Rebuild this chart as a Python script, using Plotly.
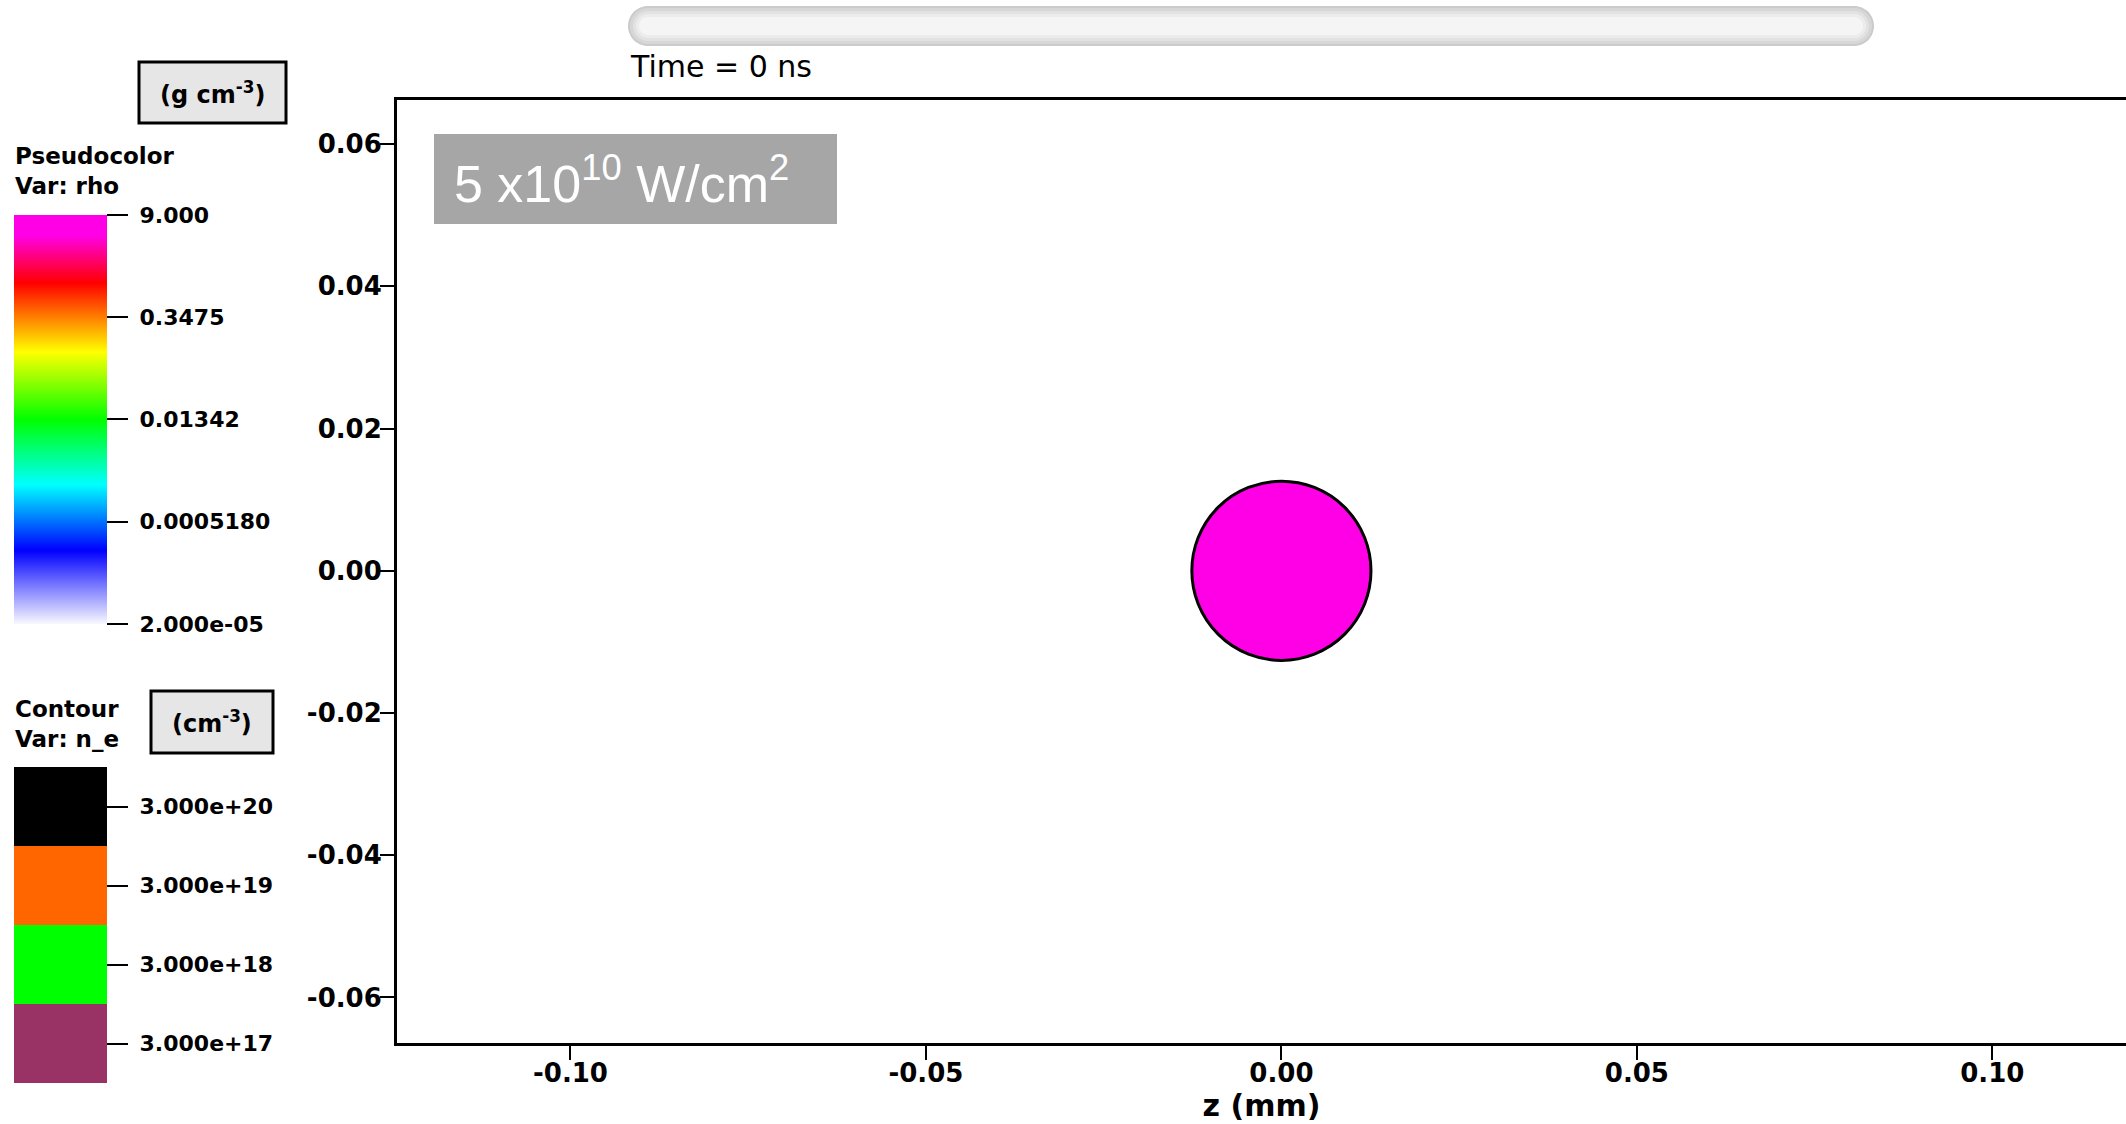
import math
import plotly.graph_objects as go

W, H = 2126, 1124

# ---------------- data ----------------
rho_tick_values = [2.0e-05, 0.0005180, 0.01342, 0.3475, 9.000]
rho_tick_labels = ["2.000e-05", "0.0005180", "0.01342", "0.3475", "9.000"]
rho_scale_pos = [0.0, 0.08, 0.18, 0.34, 0.50, 0.665, 0.834, 0.95, 1.0]
rho_scale_col = ["#f8f8ff", "#8c8cff", "#0000ff", "#00ffff", "#00ff00",
                 "#ffff00", "#ff0000", "#ff00e6", "#ff00e6"]
ne_levels = ["3.000e+17", "3.000e+18", "3.000e+19", "3.000e+20"]
ne_colors = ["#993366", "#00ff00", "#ff6600", "#000000"]
x_tick_values = [-0.10, -0.05, 0.00, 0.05, 0.10]
y_tick_values = [-0.06, -0.04, -0.02, 0.00, 0.02, 0.04, 0.06]
target_center = (0.0, 0.0)
target_radius = 0.0126
target_rho = 9.0
x_range = [-0.1244, 0.1188]
y_range = [-0.0664, 0.0662]
time_label = "Time = 0 ns"
intensity_label = "5 x10<sup>10</sup> W/cm<sup>2</sup>"

# ---------------- layout geometry ----------------
L, R, T, B = 397, 0, 100, 81
PW, PH = W - L - R, H - T - B


def px(x):
    return (x - L) / PW


def py(y):
    return (H - B - y) / PH


FONT = "DejaVu Sans"
NB = "\u00a0"
cb_font = dict(family=FONT, size=22, color="#000", weight="bold")

fig = go.Figure()

# pseudocolor colorbar (log10 rho)
lo, hi = math.log10(rho_tick_values[0]), math.log10(rho_tick_values[-1])
fig.add_trace(go.Scatter(
    x=[target_center[0], target_center[0]], y=[target_center[1], target_center[1]],
    mode="markers", hoverinfo="skip", showlegend=False,
    marker=dict(
        size=1, opacity=0,
        color=[lo, hi], cmin=lo - 1e-9, cmax=hi + 1e-9,
        colorscale=[[p, c] for p, c in zip(rho_scale_pos, rho_scale_col)],
        showscale=True,
        colorbar=dict(
            xref="paper", x=px(14), xanchor="left", xpad=0,
            yref="paper", y=py(215), yanchor="top", ypad=0,
            thickness=93, thicknessmode="pixels",
            len=409, lenmode="pixels",
            outlinewidth=0,
            tickvals=[math.log10(v) for v in rho_tick_values],
            ticktext=[NB + t for t in rho_tick_labels],
            ticks="outside", ticklen=21, tickwidth=1.5, tickcolor="#000",
            tickfont=cb_font,
        ),
    ),
))

# contour level legend (discrete)
n = len(ne_colors)
dscale = []
for i, c in enumerate(ne_colors):
    dscale.append([i / n, c])
    dscale.append([(i + 1) / n, c])
fig.add_trace(go.Scatter(
    x=[target_center[0], target_center[0]], y=[target_center[1], target_center[1]],
    mode="markers", hoverinfo="skip", showlegend=False,
    marker=dict(
        size=1, opacity=0,
        color=[0, n], cmin=0, cmax=n,
        colorscale=dscale,
        showscale=True,
        colorbar=dict(
            xref="paper", x=px(14), xanchor="left", xpad=0,
            yref="paper", y=py(767), yanchor="top", ypad=0,
            thickness=93, thicknessmode="pixels",
            len=316, lenmode="pixels",
            outlinewidth=0,
            tickvals=[i + 0.5 for i in range(n)],
            ticktext=[NB + t for t in ne_levels],
            ticks="outside", ticklen=21, tickwidth=1.5, tickcolor="#000",
            tickfont=cb_font,
        ),
    ),
))

shapes = []

# target (rho = 9 -> top colour of the table)
cx, cy = target_center
shapes.append(dict(
    type="circle", xref="x", yref="y", layer="above",
    x0=cx - target_radius, x1=cx + target_radius,
    y0=cy - target_radius, y1=cy + target_radius,
    fillcolor=rho_scale_col[-1], line=dict(color="#000", width=3),
))


def pill(x0, y0, x1, y1):
    r = (y1 - y0) / 2
    k = 0.5523 * r

    def P(a, b):
        return f"{px(a):.6f},{py(b):.6f}"
    path = f"M{P(x0 + r, y0)} L{P(x1 - r, y0)} "
    path += f"C{P(x1 - r + k, y0)} {P(x1, y0 + r - k)} {P(x1, y0 + r)} "
    path += f"C{P(x1, y0 + r + k)} {P(x1 - r + k, y1)} {P(x1 - r, y1)} "
    path += f"L{P(x0 + r, y1)} "
    path += f"C{P(x0 + r - k, y1)} {P(x0, y0 + r + k)} {P(x0, y0 + r)} "
    path += f"C{P(x0, y0 + r - k)} {P(x0 + r - k, y0)} {P(x0 + r, y0)} Z"
    return path


# time slider pill with pseudo gradient
for inset, col in [(0, "#cbcbcb"), (2, "#d7d7d7"), (5, "#e2e2e2"), (8, "#ececec"), (11, "#f5f5f5")]:
    shapes.append(dict(
        type="path", xref="paper", yref="paper", layer="above",
        path=pill(628 + inset, 6 + inset, 1874 - inset, 46 - inset),
        fillcolor=col, line=dict(width=0),
    ))

# intensity label box
shapes.append(dict(type="rect", xref="paper", yref="paper",
                   x0=px(434), x1=px(837), y0=py(224), y1=py(134),
                   fillcolor="#a6a6a6", line=dict(width=0), layer="above"))
# unit boxes
for (a, b, c, d) in [(139, 62, 286, 123), (151, 691, 273, 753)]:
    shapes.append(dict(type="rect", xref="paper", yref="paper",
                       x0=px(a), x1=px(c), y0=py(d), y1=py(b),
                       fillcolor="#e6e6e6", line=dict(color="#000", width=3),
                       layer="above"))

annotations = [
    dict(text=intensity_label, x=px(452), y=py(180), xanchor="left", yanchor="middle",
         font=dict(family="Liberation Sans", size=52, color="#ffffff")),
    dict(text=time_label, x=px(628), y=py(66), xanchor="left", yanchor="middle",
         font=dict(family=FONT, size=30, color="#000")),
    dict(text="(g cm<sup>-3</sup>)", x=px(212), y=py(93), xanchor="center", yanchor="middle",
         font=dict(family=FONT, size=24, color="#000", weight="bold")),
    dict(text="(cm<sup>-3</sup>)", x=px(212), y=py(722), xanchor="center", yanchor="middle",
         font=dict(family=FONT, size=24, color="#000", weight="bold")),
    dict(text="Pseudocolor<br>Var: rho", x=px(13), y=py(171), xanchor="left", yanchor="middle",
         align="left", font=dict(family=FONT, size=23, color="#000", weight="bold")),
    dict(text="Contour<br>Var: n_e", x=px(13), y=py(724), xanchor="left", yanchor="middle",
         align="left", font=dict(family=FONT, size=23, color="#000", weight="bold")),
]
for a in annotations:
    a.update(xref="paper", yref="paper", showarrow=False)

axis_font = dict(family=FONT, size=26, color="#000", weight="bold")

fig.update_layout(
    width=W, height=H,
    margin=dict(l=L, r=R, t=T, b=B, pad=0),
    paper_bgcolor="#ffffff", plot_bgcolor="#ffffff",
    showlegend=False,
    shapes=shapes,
    annotations=annotations,
    xaxis=dict(
        range=x_range, showgrid=False, zeroline=False,
        showline=True, linecolor="#000", linewidth=3, mirror=True,
        ticks="outside", ticklen=14, tickwidth=1.5, tickcolor="#000",
        tickvals=x_tick_values, ticktext=[f"{v:.2f}" for v in x_tick_values],
        tickfont=axis_font, ticklabelstandoff=-9,
        title=dict(text="z (mm)", font=dict(family=FONT, size=30, color="#000", weight="bold"),
                   standoff=5),
    ),
    yaxis=dict(
        range=y_range, showgrid=False, zeroline=False,
        showline=True, linecolor="#000", linewidth=3,
        ticks="outside", ticklen=14, tickwidth=1.5, tickcolor="#000",
        tickvals=y_tick_values, ticktext=[f"{v:.2f}" for v in y_tick_values],
        tickfont=axis_font, ticklabelstandoff=-7,
    ),
)

fig.write_html("out.html", config={"displayModeBar": False},
               post_script="document.body.style.margin='0';document.body.style.overflow='hidden';")
